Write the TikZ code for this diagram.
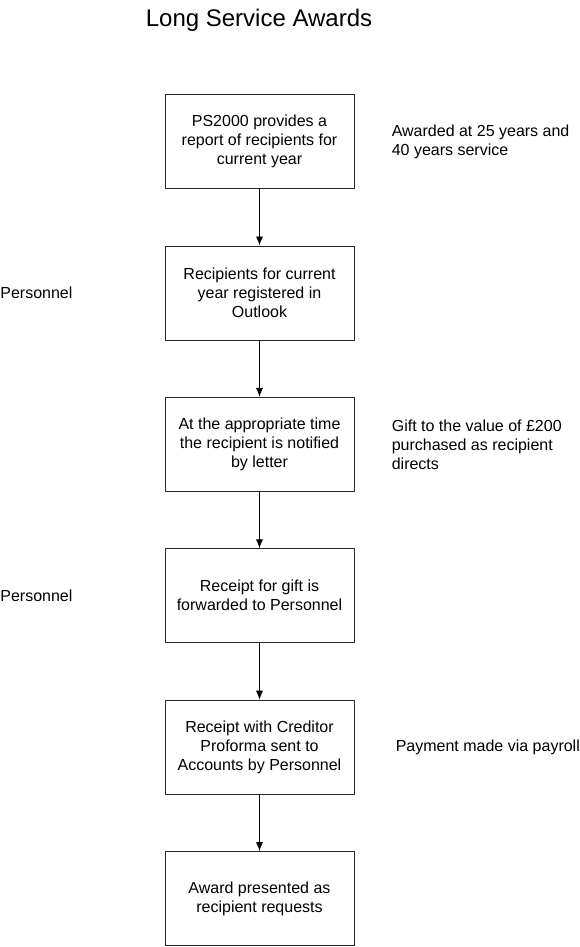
\documentclass[tikz,border=0pt]{standalone}
\usepackage{fontspec}
\setmainfont{Liberation Sans}
\usetikzlibrary{positioning,arrows.meta}

\begin{document}
\begin{tikzpicture}[x=1pt,y=1pt,->,>={Latex[length=9pt,width=7pt]},auto,node distance=151.4pt,line width=0.8pt,
    step node/.style={rectangle,draw=black!85,minimum width=189pt,minimum height=94pt,align=center,inner sep=0pt,font=\fontsize{16}{19}\selectfont},
    note/.style={align=left,inner sep=0pt,font=\fontsize{16}{19}\selectfont}]

            \useasboundingbox (0,0) rectangle (579,-947);
            \coordinate (edge) at (0,0);

            \node[step node] (1) at (259.5,-141.5) {PS2000 provides a\\report of recipients for\\current year};
            \node[step node] (2) [below of = 1] {Recipients for current\\year registered in\\Outlook};
            \node[step node] (3) [below of = 2] {At the appropriate time\\the recipient is notified\\by letter};
            \node[step node] (4) [below of = 3] {Receipt for gift is\\forwarded to Personnel};
            \node[step node] (5) [below of = 4] {Receipt with Creditor\\Proforma sent to\\Accounts by Personnel};
            \node[step node] (6) [below of = 5] {Award presented as\\recipient requests};

            \node[font=\fontsize{24}{28}\selectfont] (title) [node distance=115pt, above of = 1, anchor=base, xshift=-0.5pt] {Long Service Awards};

            \node[note] (n1) [right=37pt of 1] {Awarded at 25 years and\\40 years service};
            \node[note] (n3) [right=37pt of 3] {Gift to the value of £200\\purchased as recipient\\directs};
            \node[note] (n5) [right=41pt of 5] {Payment made via payroll};
            \node[note, anchor=west] (p2) at (edge |- 2) {Personnel};
            \node[note, anchor=west] (p4) at (edge |- 4) {Personnel};

            \draw[->] (1) to (2);
            \draw[->] (2) to (3);
            \draw[->] (3) to (4);
            \draw[->] (4) to (5);
            \draw[->] (5) to (6);

            ;
        \end{tikzpicture}
\end{document}
